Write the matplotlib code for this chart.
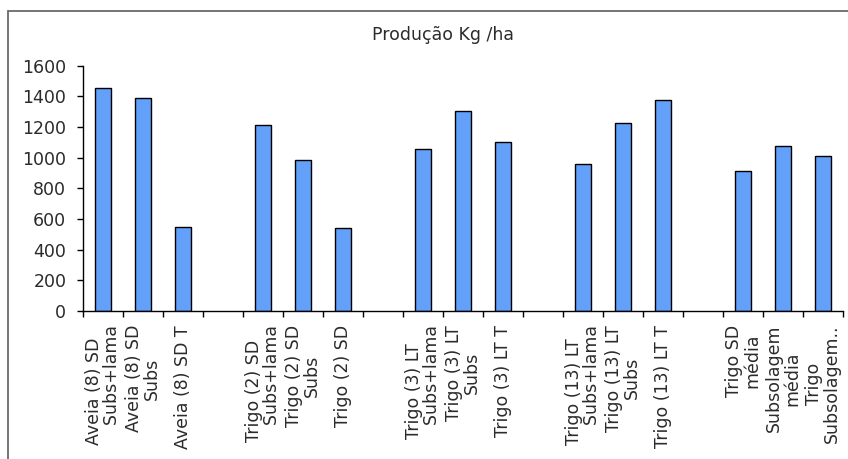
import matplotlib.pyplot as plt
from matplotlib.patches import Rectangle
from matplotlib.ticker import FixedLocator

# Production per treatment (kg/ha); empty strings / None are spacer slots between groups
labels = [
    "Aveia (8) SD\n      Subs+lama", "Aveia (8) SD\nSubs", "Aveia (8) SD T", "",
    "Trigo (2) SD\n      Subs+lama", "Trigo (2) SD\nSubs", "Trigo (2) SD", "",
    "Trigo (3) LT\n      Subs+lama", "Trigo (3) LT\nSubs", "Trigo (3) LT T", "",
    "Trigo (13) LT\n      Subs+lama", "Trigo (13) LT\nSubs", "Trigo (13) LT T", "",
    "Trigo SD\nmédia", "Subsolagem\nmédia", "Trigo\nSubsolagem..",
]
producao = [
    1455, 1392, 551, None,
    1216, 982, 542, None,
    1056, 1303, 1104, None,
    958, 1229, 1374, None,
    911, 1078, 1008,
]

BAR_COLOR = "#62a0fa"
TEXT_COLOR = "#2b2b2b"
FS = 12.5

fig = plt.figure(figsize=(8.48, 4.59), dpi=100)
ax = fig.add_axes([83 / 848, 1 - 311 / 459, 760 / 848, (311 - 65.7) / 459])

xs = [i for i, v in enumerate(producao) if v is not None]
ys = [v for v in producao if v is not None]
ax.bar(xs, ys, width=0.4, color=BAR_COLOR, edgecolor="black", linewidth=1.0)

ax.set_xlim(-0.5, len(labels) - 0.5)
ax.set_ylim(0, 1600)
ax.set_yticks(range(0, 1601, 200))

# category labels at bar centres, tick marks on the category boundaries
ax.set_xticks(range(len(labels)))
ax.set_xticklabels(labels, rotation=90, ha="center", va="top",
                   multialignment="center", fontsize=FS, color=TEXT_COLOR,
                   linespacing=1.05)
ax.xaxis.set_minor_locator(FixedLocator([i - 0.5 for i in range(len(labels) + 1)]))
ax.tick_params(axis="x", which="major", length=0, pad=10)
ax.tick_params(axis="x", which="minor", length=4, width=1, direction="out")
ax.tick_params(axis="y", length=4, width=1, pad=8, labelsize=FS,
               labelcolor=TEXT_COLOR)

for side in ("top", "right"):
    ax.spines[side].set_visible(False)
for side in ("left", "bottom"):
    ax.spines[side].set_linewidth(1.0)

fig.text(443 / 848, 1 - 35 / 459, "Produção Kg /ha", ha="center", va="center",
         fontsize=FS, color=TEXT_COLOR)

# outer chart frame, running off the right and bottom edges
fig.add_artist(Rectangle((8 / 848, -0.05), 1.0, 1 - 11 / 459 + 0.05,
                         transform=fig.transFigure, fill=False,
                         edgecolor="#6a6a6a", linewidth=1.3))

fig.savefig("out.png", dpi=100)
